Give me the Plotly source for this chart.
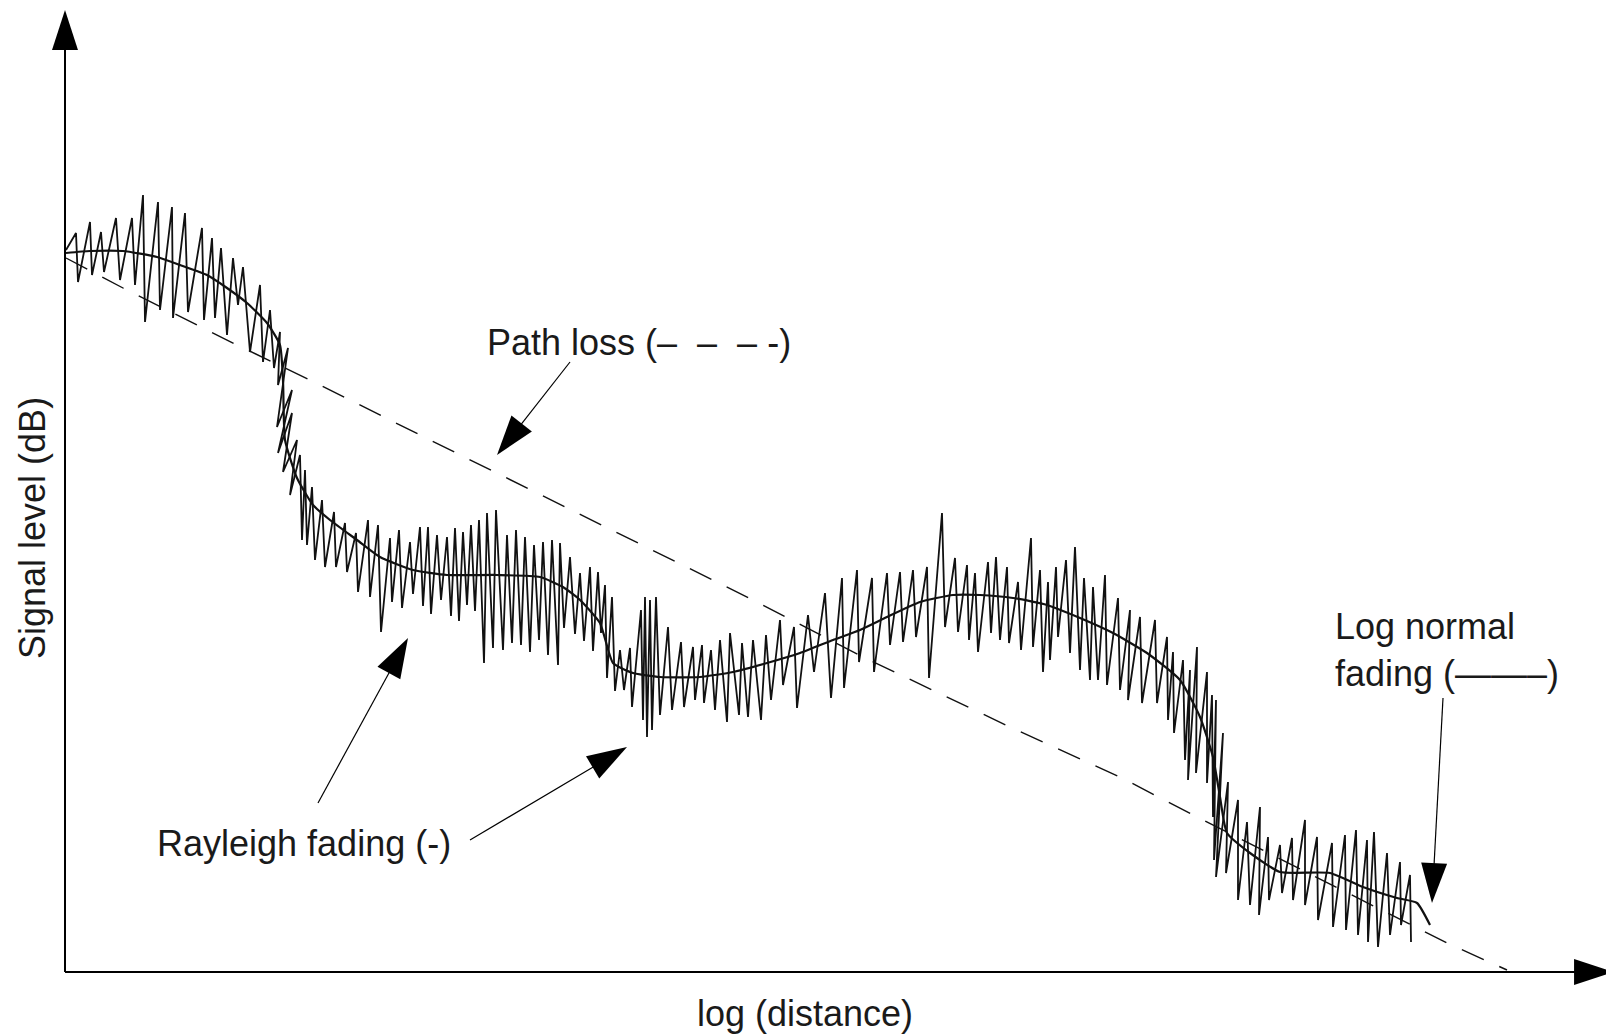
import plotly.graph_objects as go

# ---------------- data (arbitrary schematic units) ----------------
# x = log(distance), y = signal level

# Path loss (dashed)
pl_x = [1, 58, 172, 245, 355, 432, 582, 688, 798, 945, 1055, 1132, 1382, 1442]
pl_y = [714, 684, 627, 592, 537, 499, 425, 372, 315, 245, 195, 155, 29, 2]

# Log-normal (slow) fading (smooth solid)
ln_x = [1, 25, 58, 92, 115, 142, 162, 182, 202, 215, 218, 220, 232, 248, 265,
        292, 315, 348, 382, 432, 475, 498, 515, 535, 548, 568, 595, 635, 668, 702,
        735, 768, 795, 822, 855, 888, 915, 948, 982, 1015, 1048, 1082, 1115, 1135,
        1148, 1155, 1162, 1185, 1215, 1265, 1298, 1332, 1352, 1365]
ln_y = [719, 721, 721, 715, 707, 697, 684, 669, 649, 627, 592, 532, 494, 467, 452,
        432, 415, 402, 397, 397, 395, 385, 372, 349, 309, 299, 295, 295, 300, 309,
        319, 332, 342, 355, 370, 377, 377, 374, 367, 354, 339, 319, 292, 255,
        215, 175, 139, 119, 100, 99, 85, 74, 69, 47]

# Rayleigh (fast) fading zig-zag
ray_x_a = [1, 11, 13, 25, 27, 36, 39, 51, 55, 67, 70, 78, 80, 93, 95, 107, 108, 120, 123, 137,
           139, 147, 150, 156, 162, 168, 173, 178, 185, 195, 198, 205, 209, 215, 213, 223, 212,
           227, 213, 227, 218, 232, 225, 235, 237]
ray_y_a = [722, 739, 690, 750, 697, 740, 700, 754, 692, 754, 687, 777, 650, 770, 662, 765, 654, 759, 660, 744,
           652, 734, 654, 724, 637, 714, 667, 705, 620, 687, 610, 662, 604, 640, 587, 624, 545,
           582, 519, 559, 500, 532, 477, 517, 432]
ray_x_b = [240, 242, 247, 250, 257, 260, 269, 271, 280, 282, 291, 293, 303, 305, 313, 316, 325, 327,
           334, 337, 345, 348, 355, 358, 363, 366, 372, 376, 382, 386, 390, 394, 398, 402, 406, 410,
           414, 419, 422, 428, 431, 438, 442, 447, 451, 456, 460, 465, 469, 474, 478, 483, 487, 493,
           495, 499, 505, 510, 515, 519, 525, 528, 533, 536, 540, 542, 547, 550]
ray_y_b = [502, 427, 485, 412, 472, 405, 460, 405, 449, 400, 439, 380, 452, 375, 447, 340, 434, 370,
           442, 364, 430, 378, 445, 366, 445, 358, 437, 372, 435, 356, 444, 351, 440, 367, 447, 361,
           452, 309, 459, 324, 462, 322, 437, 329, 442, 327, 435, 320, 427, 332, 430, 317, 432, 307,
           429, 344, 415, 338, 399, 331, 405, 321, 400, 339, 387, 294, 375, 281]
ray_x_c = [555, 559, 565, 567, 576, 578, 580, 582, 585, 587, 591, 595, 603, 607, 616, 619, 628, 630,
           637, 639, 646, 650, 655, 662, 665, 674, 677, 683, 688, 696, 701, 706, 715, 718, 729, 732,
           743, 749, 760, 766, 777, 779, 792, 794, 807, 809, 822, 825, 835, 838, 848, 851, 862, 864,
           877, 880, 890, 893]
ray_y_c = [322, 282, 324, 265, 362, 252, 375, 235, 372, 242, 375, 257, 345, 262, 330, 265, 325, 272,
           327, 269, 322, 262, 332, 250, 339, 257, 329, 255, 332, 252, 337, 272, 352, 287, 345, 264,
           357, 300, 379, 274, 394, 284, 402, 310, 394, 300, 399, 327, 400, 330, 402, 335, 405, 294,
           459, 345, 414, 340]
ray_x_d = [902, 904, 910, 913, 923, 926, 931, 935, 942, 944, 953, 956, 966, 968, 975, 978, 983, 985,
           991, 993, 1001, 1005, 1010, 1015, 1019, 1025, 1028, 1033, 1040, 1042, 1053, 1055, 1065,
           1063, 1075, 1077, 1090, 1092, 1102, 1103, 1108, 1109]
ray_y_d = [407, 332, 399, 320, 410, 339, 415, 332, 405, 329, 390, 322, 434, 325, 402, 300, 390, 312,
           405, 335, 412, 319, 425, 302, 394, 292, 385, 292, 397, 287, 374, 282, 362,
           272, 355, 269, 352, 269, 335, 252, 320, 239]
ray_x_e = [1118, 1120, 1125, 1123, 1132, 1131, 1142, 1142, 1147, 1148, 1151, 1149, 1158, 1151, 1163,
           1161, 1173, 1173, 1182, 1185, 1195, 1194, 1203, 1204, 1215, 1217, 1227, 1228, 1240, 1240,
           1252, 1253, 1267, 1268, 1280, 1281, 1291, 1293, 1302, 1303, 1309, 1313, 1322, 1325, 1335,
           1336, 1345, 1346]
ray_y_e = [312, 212, 302, 192, 325, 199, 300, 189, 277, 155, 272, 112, 239, 95, 190,
           99, 172, 72, 150, 67, 165, 57, 135, 72, 127, 79, 134, 72, 152, 67,
           135, 52, 129, 45, 137, 42, 142, 37, 132, 30, 140, 25, 119, 37, 110,
           47, 97, 30]

ray_x = ray_x_a + ray_x_b + ray_x_c + ray_x_d + ray_x_e
ray_y = ray_y_a + ray_y_b + ray_y_c + ray_y_d + ray_y_e

# Axis extents
x_max = 1549
y_max = 962

# ---------------- figure ----------------
INK = "#000000"
FONT = "Liberation Sans, Arial, Helvetica, sans-serif"

fig = go.Figure()

fig.add_trace(go.Scatter(x=pl_x, y=pl_y, mode="lines",
                         line=dict(color="#111111", width=1.4, dash="24px,17px"),
                         hoverinfo="skip", showlegend=False))
fig.add_trace(go.Scatter(x=ray_x, y=ray_y, mode="lines",
                         line=dict(color="#111111", width=1.8),
                         hoverinfo="skip", showlegend=False))
fig.add_trace(go.Scatter(x=ln_x, y=ln_y, mode="lines",
                         line=dict(color="#111111", width=2.2, shape="spline", smoothing=0.5),
                         hoverinfo="skip", showlegend=False))


def add_arrow(x0, y0, x1, y1, width):
    fig.add_trace(go.Scatter(
        x=[x0, x1], y=[y0, y1], mode="lines+markers",
        line=dict(color=INK, width=width),
        marker=dict(symbol="arrow", size=[0, 42], angleref="previous",
                    color=INK, opacity=1, line=dict(width=0)),
        cliponaxis=False, hoverinfo="skip", showlegend=False))


# axes with arrowheads
add_arrow(0, 0, 0, y_max, 2)
add_arrow(0, 0, x_max, 0, 2)

# label pointers
add_arrow(505, 610, 432, 517, 1.2)    # path loss
add_arrow(253, 169, 343, 334, 1.2)    # rayleigh 1
add_arrow(405, 132, 562, 225, 1.2)    # rayleigh 2
add_arrow(1378, 274, 1367, 69, 1.2)   # log normal

tfont = dict(family=FONT, size=36, color="#1a1a1a")
annotations = [
    dict(x=420, y=630, text="Path loss (–\u00a0 –\u00a0 –\u00a0-)", xanchor="left", yanchor="middle"),
    dict(x=90, y=129, text="Rayleigh fading (-)", xanchor="left", yanchor="middle"),
    dict(x=1268, y=322, text="Log normal<br>fading (——–)", xanchor="left", yanchor="middle", align="left"),
    dict(x=740, y=-41, text="log (distance)", xanchor="center", yanchor="middle"),
    dict(x=-33, y=444, text="Signal level (dB)", xanchor="center", yanchor="middle", textangle=-90),
]
for a in annotations:
    a.update(xref="x", yref="y", showarrow=False, font=tfont)

# The page body adds an 8 px margin, so the figure is 8 px smaller than the
# window and the axis ranges start 8 px in.
fig.update_layout(
    width=1606, height=1026, autosize=False,
    margin=dict(l=0, r=0, t=0, b=0, pad=0),
    paper_bgcolor="white", plot_bgcolor="white",
    xaxis=dict(range=[-57, 1549], visible=False, fixedrange=True),
    yaxis=dict(range=[-62, 964], visible=False, fixedrange=True),
    annotations=annotations,
    showlegend=False,
)

fig.write_html("out.html")
